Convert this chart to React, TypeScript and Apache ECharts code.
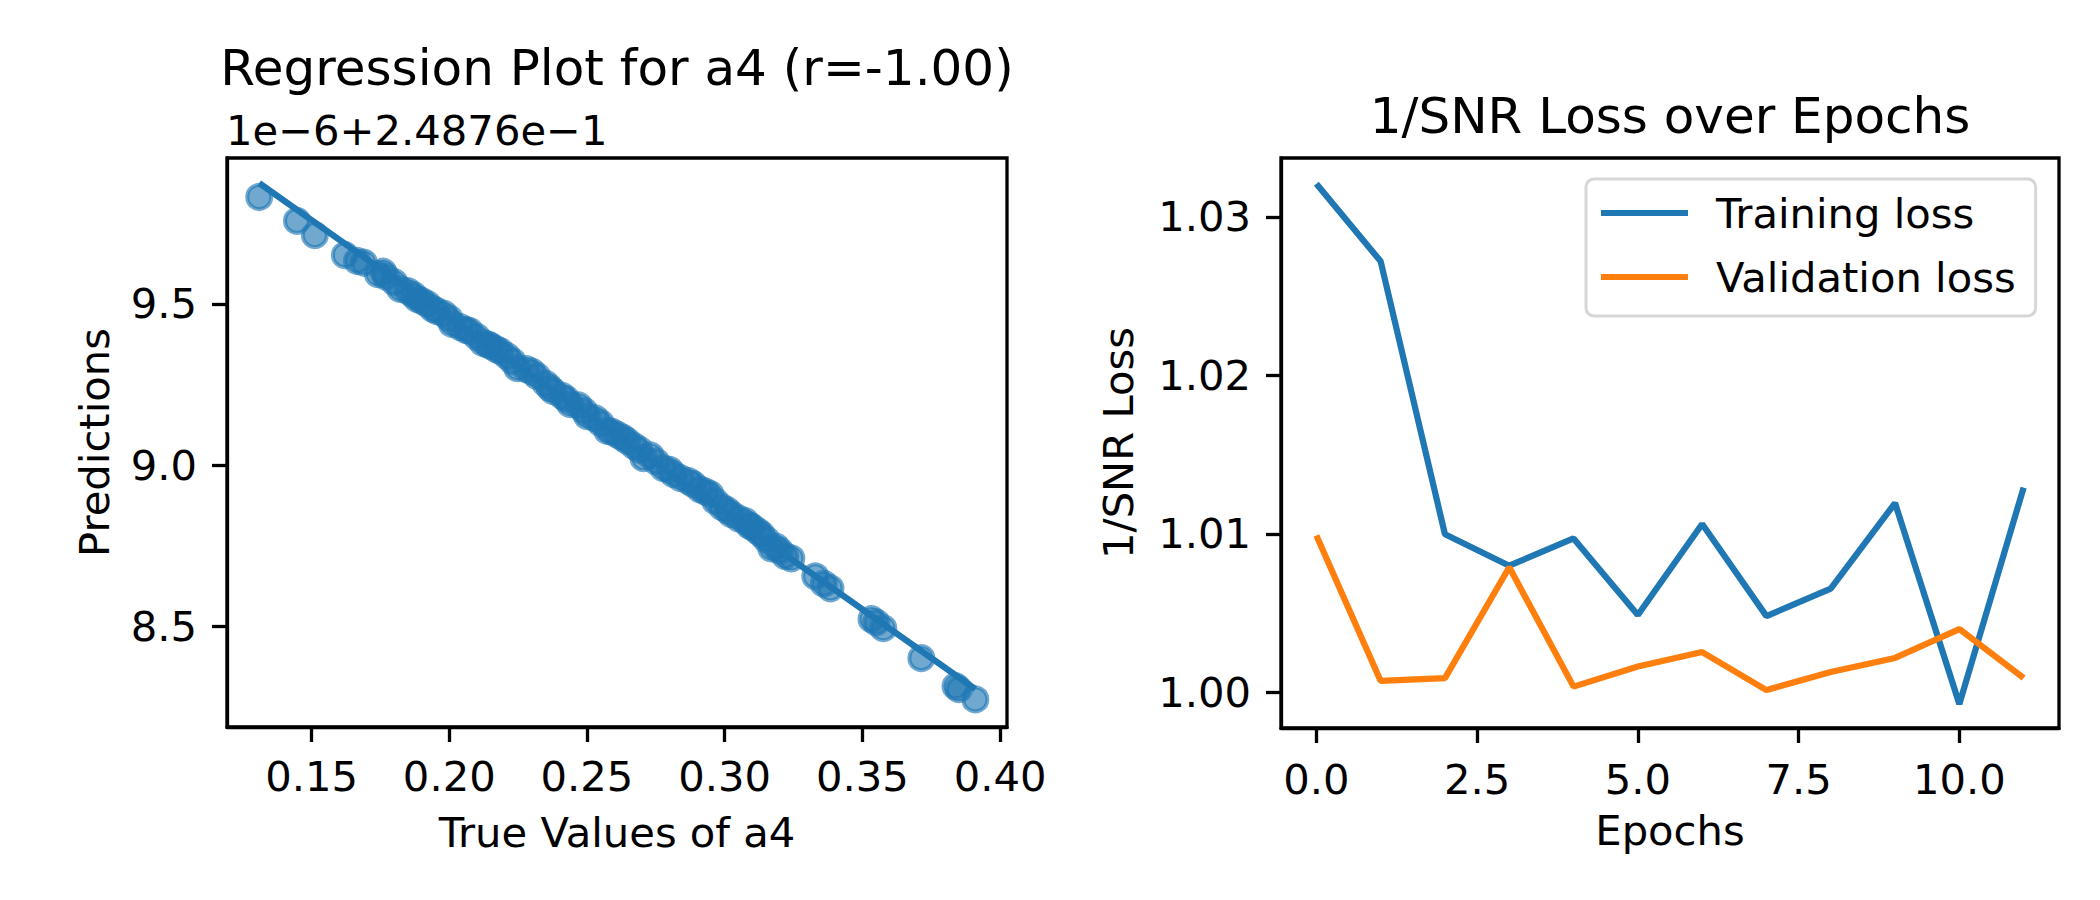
import React, { useEffect, useRef } from "react";
import * as echarts from "echarts";

const FONT = "DejaVu Sans";
const BLUE = "#1f77b4";
const ORANGE = "#ff7f0e";

// Regression scatter (offset units: value = y*1e-6 + 0.24876)
const trueValues = [
  0.1310, 0.1447, 0.1512, 0.1621, 0.1665, 0.1690, 0.1741, 0.1760, 0.1770, 0.1800,
  0.1821, 0.1850, 0.1870, 0.1883, 0.1900, 0.1920, 0.1940, 0.1955, 0.1980, 0.2000,
  0.2010, 0.2040, 0.2060, 0.2075, 0.2100, 0.2122, 0.2140, 0.2150, 0.2170, 0.2185,
  0.2210, 0.2230, 0.2247, 0.2280, 0.2300, 0.2319, 0.2350, 0.2365, 0.2377, 0.2410,
  0.2425, 0.2439, 0.2470, 0.2490, 0.2501, 0.2530, 0.2550, 0.2574, 0.2590, 0.2610,
  0.2630, 0.2646, 0.2670, 0.2690, 0.2705, 0.2730, 0.2750, 0.2777, 0.2800, 0.2814,
  0.2840, 0.2870, 0.2886, 0.2910, 0.2930, 0.2948, 0.2966, 0.2990, 0.3010, 0.3024,
  0.3050, 0.3075, 0.3090, 0.3100, 0.3120, 0.3133, 0.3150, 0.3169, 0.3185, 0.3200,
  0.3220, 0.3242, 0.3329, 0.3360, 0.3384, 0.3533, 0.3550, 0.3576, 0.3714, 0.3838,
  0.3850, 0.3910,
];
const predictions = [
  9.832, 9.758, 9.714, 9.652, 9.634, 9.628, 9.593, 9.600, 9.585, 9.568,
  9.547, 9.540, 9.528, 9.516, 9.510, 9.500, 9.485, 9.478, 9.470, 9.455,
  9.438, 9.428, 9.420, 9.416, 9.398, 9.379, 9.375, 9.370, 9.360, 9.354,
  9.338, 9.322, 9.301, 9.298, 9.290, 9.276, 9.253, 9.240, 9.230, 9.215,
  9.205, 9.189, 9.185, 9.168, 9.152, 9.145, 9.130, 9.106, 9.104, 9.095,
  9.085, 9.075, 9.060, 9.048, 9.022, 9.030, 9.012, 8.991, 8.985, 8.972,
  8.960, 8.950, 8.941, 8.925, 8.918, 8.910, 8.888, 8.870, 8.860, 8.848,
  8.835, 8.826, 8.812, 8.808, 8.795, 8.786, 8.770, 8.742, 8.748, 8.735,
  8.718, 8.711, 8.655, 8.632, 8.618, 8.522, 8.512, 8.494, 8.401, 8.314,
  8.305, 8.273,
];
const fitX = [0.131, 0.391];
const fitY = [9.875, 8.305];

const regXTicks = [0.15, 0.2, 0.25, 0.3, 0.35, 0.4];
const regYTicks = [8.5, 9.0, 9.5];

// Loss curves
const epochs = [0, 1, 2, 3, 4, 5, 6, 7, 8, 9, 10, 11];
const trainingLoss = [
  1.0321, 1.0272, 1.00998, 1.0080, 1.00972, 1.00489, 1.01063, 1.00482, 1.00656, 1.01195, 0.99927, 1.01293,
];
const validationLoss = [
  1.0099, 1.00073, 1.00091, 1.0079, 1.00037, 1.00164, 1.00255, 1.00015, 1.00129, 1.00218, 1.0040, 1.00091,
];
const lossXTicks = [0, 2.5, 5, 7.5, 10];
const lossYTicks = [1.0, 1.01, 1.02, 1.03];

const TICK_FS = 41.7;

function axisCommon(ticks: number[], digits: number, margin: number) {
  return {
    splitLine: { show: false },
    axisLine: { show: true, onZero: false, lineStyle: { color: "#000", width: 3.3 } },
    axisTick: {
      show: true,
      inside: false,
      length: 15,
      customValues: ticks,
      lineStyle: { color: "#000", width: 3.3 },
    },
    axisLabel: {
      customValues: ticks,
      formatter: (v: number) => v.toFixed(digits),
      fontSize: TICK_FS,
      fontFamily: FONT,
      color: "#000",
      margin,
    },
    nameTextStyle: { fontSize: TICK_FS, fontFamily: FONT, color: "#000" },
  };
}

export default function App() {
  const ref = useRef<HTMLDivElement>(null);
  useEffect(() => {
    if (!ref.current) return;
    const chart = echarts.init(ref.current, undefined, { renderer: "svg" });
    const scatterData = trueValues.map((x, i) => [x, predictions[i]]);
    const fitData = fitX.map((x, i) => [x, fitY[i]]);
    const trainData = epochs.map((e, i) => [e, trainingLoss[i]]);
    const valData = epochs.map((e, i) => [e, validationLoss[i]]);

    chart.setOption({
      animation: false,
      backgroundColor: "#fff",
      textStyle: { fontFamily: FONT },
      grid: [
        { left: 227, top: 158, width: 780, height: 569, show: true, borderColor: "#000", borderWidth: 3.3, backgroundColor: "transparent" },
        { left: 1281, top: 158, width: 778, height: 570, show: true, borderColor: "#000", borderWidth: 3.3, backgroundColor: "transparent" },
      ],
      xAxis: [
        {
          gridIndex: 0,
          type: "value",
          min: 0.1193,
          max: 0.4025,
          name: "True Values of a4",
          nameLocation: "middle",
          nameGap: 84,
          ...axisCommon(regXTicks, 2, 28),
        },
        {
          gridIndex: 1,
          type: "value",
          min: -0.55,
          max: 11.55,
          name: "Epochs",
          nameLocation: "middle",
          nameGap: 81,
          ...axisCommon(lossXTicks, 1, 30),
        },
      ],
      yAxis: [
        {
          gridIndex: 0,
          type: "value",
          min: 8.1875,
          max: 9.953,
          name: "Predictions",
          nameLocation: "middle",
          nameGap: 112,
          ...axisCommon(regYTicks, 1, 30),
        },
        {
          gridIndex: 1,
          type: "value",
          min: 0.99776,
          max: 1.03372,
          name: "1/SNR Loss",
          nameLocation: "middle",
          nameGap: 142,
          ...axisCommon(lossYTicks, 2, 30),
        },
      ],
      legend: {
        data: [
          { name: "Training loss", icon: "rect" },
          { name: "Validation loss", icon: "rect" },
        ],
        orient: "vertical",
        left: 1586,
        top: 179,
        itemWidth: 87,
        itemHeight: 6,
        itemGap: 16,
        padding: [10, 20, 15, 15],
        backgroundColor: "#fff",
        borderColor: "#d6d6d6",
        borderWidth: 3,
        borderRadius: 8,
        textStyle: {
          fontSize: TICK_FS,
          fontFamily: FONT,
          color: "#000",
          lineHeight: 48,
          padding: [0, 0, 0, 23],
        },
      },
      graphic: [
        {
          type: "text",
          x: 617,
          y: 68,
          style: {
            text: "Regression Plot for a4 (r=-1.00)",
            fontSize: 50,
            fontFamily: FONT,
            fill: "#000",
            align: "center",
            verticalAlign: "middle",
          },
        },
        {
          type: "text",
          x: 226,
          y: 130,
          style: {
            text: "1e\u22126+2.4876e\u22121",
            fontSize: TICK_FS,
            fontFamily: FONT,
            fill: "#000",
            align: "left",
            verticalAlign: "middle",
          },
        },
        {
          type: "text",
          x: 1670,
          y: 116,
          style: {
            text: "1/SNR Loss over Epochs",
            fontSize: 50,
            fontFamily: FONT,
            fill: "#000",
            align: "center",
            verticalAlign: "middle",
          },
        },
      ],
      series: [
        {
          type: "scatter",
          xAxisIndex: 0,
          yAxisIndex: 0,
          data: scatterData,
          symbol: "circle",
          symbolSize: 24,
          itemStyle: {
            color: "rgba(31,119,180,0.8)",
            borderColor: "rgba(31,119,180,0.8)",
            borderWidth: 4,
          },
          z: 2,
        },
        {
          type: "line",
          xAxisIndex: 0,
          yAxisIndex: 0,
          data: fitData,
          symbol: "none",
          lineStyle: { color: BLUE, width: 6.25 },
          z: 3,
        },
        {
          name: "Training loss",
          type: "line",
          xAxisIndex: 1,
          yAxisIndex: 1,
          data: trainData,
          symbol: "none",
          color: BLUE,
          lineStyle: { color: BLUE, width: 6.25 },
          z: 3,
        },
        {
          name: "Validation loss",
          type: "line",
          xAxisIndex: 1,
          yAxisIndex: 1,
          data: valData,
          symbol: "none",
          color: ORANGE,
          lineStyle: { color: ORANGE, width: 6.25 },
          z: 3,
        },
      ],
    });
    return () => chart.dispose();
  }, []);
  return (
    <div
      ref={ref}
      style={{ position: "fixed", left: 0, top: 0, width: 2100, height: 900 }}
    />
  );
}
